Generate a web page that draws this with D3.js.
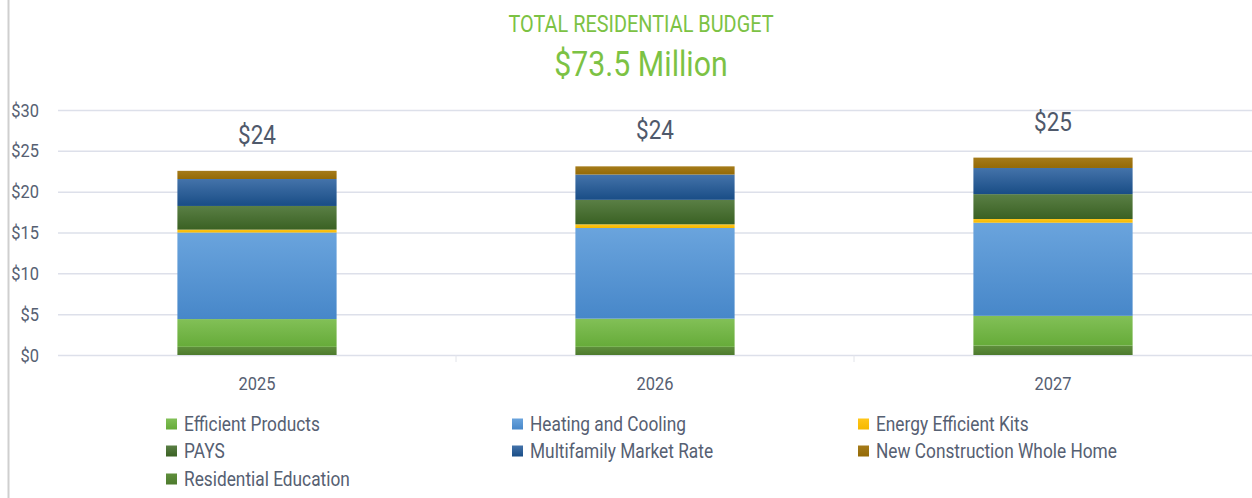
<!DOCTYPE html>
<html>
<head>
<meta charset="utf-8">
<script src="https://cdn.jsdelivr.net/npm/d3@7"></script>
<style>
  html, body { margin: 0; padding: 0; background: #fff; }
  svg { display: block; }
  text { font-family: "Roboto", "Liberation Sans", sans-serif; }
</style>
</head>
<body>
<div id="viz"></div>
<script>
const WIDTH = 1252;
const HEIGHT = 498;

// data
const years = ['2025', '2026', '2027'];
const seriesNames = [
  'Residential Education',
  'Efficient Products',
  'Heating and Cooling',
  'Energy Efficient Kits',
  'PAYS',
  'Multifamily Market Rate',
  'New Construction Whole Home'
];
const residentialEducation = [1.0, 1.0, 1.15];
const efficientProducts = [3.4, 3.45, 3.65];
const heatingCooling = [10.6, 11.1, 11.4];
const energyKits = [0.35, 0.45, 0.45];
const pays = [2.9, 3.0, 3.05];
const multifamily = [3.3, 3.1, 3.2];
const newConstruction = [1.0, 1.0, 1.27];
const totalLabels = ['$24', '$24', '$25'];
const yTicks = [0, 5, 10, 15, 20, 25, 30];
const legendOrder = [
  'Efficient Products', 'Heating and Cooling', 'Energy Efficient Kits',
  'PAYS', 'Multifamily Market Rate', 'New Construction Whole Home',
  'Residential Education'
];

const seriesValues = [
  residentialEducation, efficientProducts, heatingCooling,
  energyKits, pays, multifamily, newConstruction
];

// gradient stops [top, bottom]
const COLORS = {
  'Residential Education': ['#5f8f3c', '#4d7a2d'],
  'Efficient Products': ['#82c057', '#66ab39'],
  'Heating and Cooling': ['#6aa4dd', '#4787c9'],
  'Energy Efficient Kits': ['#ffc61a', '#f5b800'],
  'PAYS': ['#5a7f45', '#3a6123'],
  'Multifamily Market Rate': ['#4473aa', '#194d86'],
  'New Construction Whole Home': ['#a57b1a', '#946a06']
};

const MARGIN = { top: 110, right: 0, bottom: 143, left: 58 };
const TEXT_COLOR = '#566072';
const GREEN = '#7cc244';
const SQUEEZE = 0.865; // the original uses a condensed face

const rows = years.map((year, i) => {
  const row = { year };
  seriesNames.forEach((name, s) => { row[name] = seriesValues[s][i]; });
  return row;
});
const stacked = d3.stack().keys(seriesNames)(rows);

const svg = d3.select('#viz')
  .append('svg')
  .attr('width', WIDTH)
  .attr('height', HEIGHT);

const defs = svg.append('defs');
seriesNames.forEach((name, i) => {
  const grad = defs.append('linearGradient')
    .attr('id', `grad${i}`)
    .attr('x1', 0).attr('y1', 0)
    .attr('x2', 0).attr('y2', 1);
  grad.append('stop').attr('offset', '0%').attr('stop-color', COLORS[name][0]);
  grad.append('stop').attr('offset', '100%').attr('stop-color', COLORS[name][1]);
});

const squeezeAt = (px, py) => `translate(${px},${py}) scale(${SQUEEZE},1)`;

// left frame line
svg.append('line')
  .attr('x1', 8.5).attr('x2', 8.5)
  .attr('y1', 0).attr('y2', HEIGHT)
  .attr('stroke', '#cfcfcf')
  .attr('stroke-width', 2);

const x = d3.scaleBand()
  .domain(years)
  .range([MARGIN.left, WIDTH - MARGIN.right])
  .paddingInner(0.6)
  .paddingOuter(0.3);

const y = d3.scaleLinear()
  .domain([0, 30])
  .range([HEIGHT - MARGIN.bottom, MARGIN.top]);

// title
svg.append('text')
  .attr('transform', squeezeAt(641, 32))
  .attr('text-anchor', 'middle')
  .attr('fill', GREEN)
  .attr('font-size', 23)
  .text('TOTAL RESIDENTIAL BUDGET');

svg.append('text')
  .attr('transform', squeezeAt(641, 76))
  .attr('text-anchor', 'middle')
  .attr('fill', GREEN)
  .attr('font-size', 35)
  .text('$73.5 Million');

// grid
svg.append('g')
  .selectAll('line')
  .data(yTicks)
  .join('line')
  .attr('x1', MARGIN.left)
  .attr('x2', WIDTH)
  .attr('y1', d => y(d) + 0.5)
  .attr('y2', d => y(d) + 0.5)
  .attr('stroke', '#dde0ea')
  .attr('stroke-width', 1.5);

// y axis labels
const yAxis = d3.axisLeft(y)
  .tickValues(yTicks)
  .tickSize(0)
  .tickPadding(0)
  .tickFormat(d => `$${d}`);
svg.append('g')
  .attr('transform', 'translate(39,0)')
  .call(yAxis)
  .call(g => g.select('.domain').remove())
  .call(g => g.selectAll('text')
    .attr('transform', `scale(${SQUEEZE},1)`)
    .attr('fill', TEXT_COLOR)
    .attr('font-size', 19)
    .attr('font-family', null));

// x axis labels
const xAxis = d3.axisBottom(x).tickSize(0).tickPadding(0);
svg.append('g')
  .attr('transform', `translate(0,${y(0) + 35})`)
  .call(xAxis)
  .call(g => g.select('.domain').remove())
  .call(g => g.selectAll('text')
    .attr('transform', `scale(${SQUEEZE},1)`)
    .attr('dy', 0)
    .attr('fill', TEXT_COLOR)
    .attr('font-size', 19)
    .attr('font-family', null));

// small category separator ticks
svg.append('g')
  .selectAll('line')
  .data(years.slice(1))
  .join('line')
  .attr('x1', d => x(d) - x.step() * x.paddingInner() / 2)
  .attr('x2', d => x(d) - x.step() * x.paddingInner() / 2)
  .attr('y1', y(0))
  .attr('y2', y(0) + 7)
  .attr('stroke', '#e2e4ea')
  .attr('stroke-width', 1);

// bars
svg.append('g')
  .selectAll('g')
  .data(stacked)
  .join('g')
  .attr('fill', (d, i) => `url(#grad${i})`)
  .selectAll('rect')
  .data(d => d)
  .join('rect')
  .attr('x', d => x(d.data.year))
  .attr('width', x.bandwidth())
  .attr('y', d => y(d[1]))
  .attr('height', d => y(d[0]) - y(d[1]));

// total labels
svg.append('g')
  .selectAll('text')
  .data(years)
  .join('text')
  .attr('transform', (d, i) => squeezeAt(
    x(d) + x.bandwidth() / 2,
    y(d3.sum(seriesValues, s => s[i])) - 27
  ))
  .attr('text-anchor', 'middle')
  .attr('fill', '#4f596b')
  .attr('font-size', 26)
  .text((d, i) => totalLabels[i]);

// legend
const legendX = [166, 512, 858];
const legendY = [424, 451, 479];
const legend = svg.append('g')
  .selectAll('g')
  .data(legendOrder)
  .join('g')
  .attr('transform', (d, i) => `translate(${legendX[i % 3]},${legendY[Math.floor(i / 3)]})`);
legend.append('rect')
  .attr('x', 0)
  .attr('y', -5.5)
  .attr('width', 11)
  .attr('height', 11)
  .attr('fill', d => `url(#grad${seriesNames.indexOf(d)})`);
legend.append('text')
  .attr('transform', squeezeAt(18, 7))
  .attr('fill', TEXT_COLOR)
  .attr('font-size', 20)
  .text(d => d);
</script>
</body>
</html>
